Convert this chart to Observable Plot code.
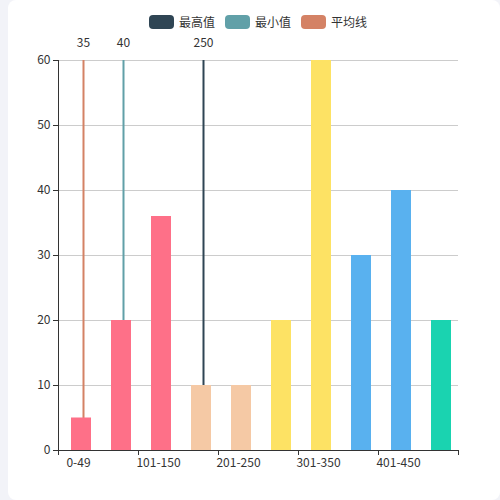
<!DOCTYPE html>
<html>
<head>
<meta charset="utf-8">
<script src="https://cdn.jsdelivr.net/npm/d3@7"></script>
<script src="https://cdn.jsdelivr.net/npm/@observablehq/plot@0.6"></script>
<style>
  body { margin: 0; background: #f2f3f8; font-family: "Noto Sans CJK SC", sans-serif; }
  #card { position: absolute; left: 8px; top: 0; width: 492px; height: 500px; background: #fff; border-radius: 8px; }
  #legend { height: 30px; display: flex; justify-content: center; align-items: center; padding-top: 13px; padding-left: 8px; box-sizing: border-box; font-size: 12px; color: #333; }
  .item { display: flex; align-items: center; margin: 0 5px; }
  .sw { width: 25px; height: 14px; border-radius: 4px; margin-right: 5px; }
</style>
</head>
<body>
<div id="card">
  <div id="legend"></div>
  <div id="chart"></div>
</div>
<script>
// categorías y valores
const categories = ["0-49", "50-100", "101-150", "151-200", "201-250", "251-300", "301-350", "351-400", "401-450", "451-500"]
const values = [5, 20, 36, 10, 10, 20, 60, 30, 40, 20]
const shownLabels = ["0-49", "101-150", "201-250", "301-350", "401-450"]

// líneas de marca
const lineNames = ["平均线", "最小值", "最高值"]
const lineCats = ["0-49", "50-100", "151-200"]
const lineLabels = ["35", "40", "250"]
const legendNames = ["最高值", "最小值", "平均线"]

const barColors = ["#fe7088", "#fe7088", "#fe7088", "#f5c9a5", "#f5c9a5", "#fde264", "#fde264", "#59b1ef", "#59b1ef", "#1ad3b0"]
const lineColors = {"最高值": "#2f4554", "最小值": "#61a0a8", "平均线": "#d48265"}

const bars = categories.map((c, i) => ({category: c, value: values[i], color: barColors[i]}))
const lines = lineNames.map((n, i) => ({name: n, category: lineCats[i], label: lineLabels[i]}))

// leyenda
d3.select("#legend").selectAll(".item").data(legendNames).join("div")
  .attr("class", "item")
  .html(d => `<div class="sw" style="background:${lineColors[d]}"></div><span>${d}</span>`)

let chart = Plot.plot({
  width: 492,
  height: 470,
  marginLeft: 50,
  marginRight: 42,
  marginTop: 30,
  marginBottom: 50,
  style: {fontFamily: "Noto Sans CJK SC, sans-serif", fontSize: "12px", color: "#333", overflow: "visible"},
  x: {domain: categories, paddingInner: 0.5, paddingOuter: 0.25, align: 0.5, axis: null},
  y: {domain: [0, 60], axis: null},
  marks: [
    Plot.gridY([10, 20, 30, 40, 50, 60], {stroke: "#ccc", strokeOpacity: 1}),
    Plot.ruleX(lines, {x: "category", y1: 0, y2: 60, stroke: d => lineColors[d.name], strokeWidth: 2, dx: 5}),
    Plot.text(lines, {x: "category", y: 60, text: "label", dy: -17, dx: 5, fill: "#333", fontSize: 12}),
    Plot.barY(bars, {x: "category", y: "value", fill: "color", dx: 3}),
    Plot.ruleY([0], {stroke: "#333"}),
    Plot.ruleX(["0-49"], {y1: 0, y2: 60, stroke: "#333", dx: -20}),
    Plot.axisY({ticks: [0, 10, 20, 30, 40, 50, 60], tickSize: 5, tickPadding: 3, stroke: "#333", fill: "#333", label: null}),
    Plot.axisX({ticks: shownLabels, tickFormat: null, tickSize: 5, dx: -20, stroke: "#333", label: null}),
    Plot.axisX({ticks: ["451-500"], tickFormat: null, tickSize: 5, dx: 20, stroke: "#333", label: null}),
    Plot.axisX({ticks: shownLabels, tickSize: 0, tickPadding: 8, fill: "#333", label: null})
  ]
})
d3.select("#chart").append(() => chart)
</script>
</body>
</html>
